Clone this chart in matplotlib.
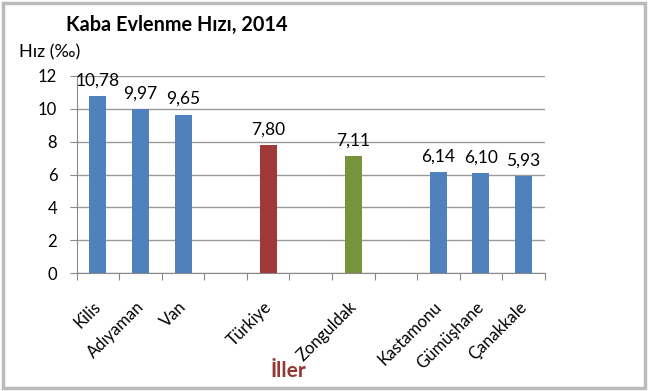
import matplotlib
matplotlib.use("Agg")
import matplotlib.pyplot as plt
import numpy as np
from matplotlib.patches import Rectangle

plt.rcParams['font.family'] = ['Lato', 'DejaVu Sans']

categories = ["Kilis", "Adıyaman", "Van", "", "Türkiye", "", "Zonguldak", "", "Kastamonu", "Gümüşhane", "Çanakkale"]
values = [10.78, 9.97, 9.65, np.nan, 7.80, np.nan, 7.11, np.nan, 6.14, 6.10, 5.93]
colors = ["#4F81BD", "#4F81BD", "#4F81BD", "none", "#A0393A", "none", "#77933C", "none", "#4F81BD", "#4F81BD", "#4F81BD"]
yticks = [0, 2, 4, 6, 8, 10, 12]

fig = plt.figure(figsize=(6.5, 3.91), dpi=100)
ax = fig.add_axes([0.118, 0.301, 0.72, 0.505])

x = np.arange(len(categories))
vals = np.array(values, dtype=float)
mask = ~np.isnan(vals)
ax.bar(x[mask], vals[mask], width=0.4, color=[c for c, m in zip(colors, mask) if m], zorder=3)

for xi, v in zip(x[mask], vals[mask]):
    ax.text(xi, v + 0.45, f"{v:.2f}".replace('.', ','), ha='center', va='bottom', fontsize=12.5, color='black', zorder=4)

ax.set_xlim(-0.5, len(categories) - 0.5)
ax.set_ylim(0, 12)
ax.set_yticks(yticks)
ax.set_yticklabels([str(t) for t in yticks], fontsize=12)
ax.grid(axis='y', color='#999999', linewidth=1.0, zorder=0)
ax.set_axisbelow(True)

ax.set_xticks(np.arange(-0.5, len(categories) + 0.5, 1))
ax.set_xticklabels([])
ax.tick_params(axis='x', length=5, color='#888888', direction='out')
ax.tick_params(axis='y', length=5, color='#888888', direction='out', pad=9)

for s in ['top', 'right']:
    ax.spines[s].set_visible(False)
for s in ['left', 'bottom']:
    ax.spines[s].set_color('#888888')

for xi, c in zip(x, categories):
    if c:
        ax.text(xi - 0.12, -1.55, c, rotation=45, ha='right', va='top', rotation_mode='anchor',
                fontsize=12, transform=ax.transData, clip_on=False)

fig.text(0.102, 0.935, "Kaba Evlenme Hızı, 2014", fontsize=14.3, fontweight='bold', ha='left', va='center')
fig.text(0.029, 0.866, "Hız (‰)", fontsize=13, ha='left', va='center')
fig.text(0.443, 0.05, "İller", fontsize=15, fontweight='bold', color='#953735', ha='center', va='center')

fig.patches.append(Rectangle((0.005, 0.008), 0.988, 0.985, transform=fig.transFigure,
                             fill=False, edgecolor='#BBBBBB', linewidth=2.5))

fig.savefig("out.png", dpi=100)
